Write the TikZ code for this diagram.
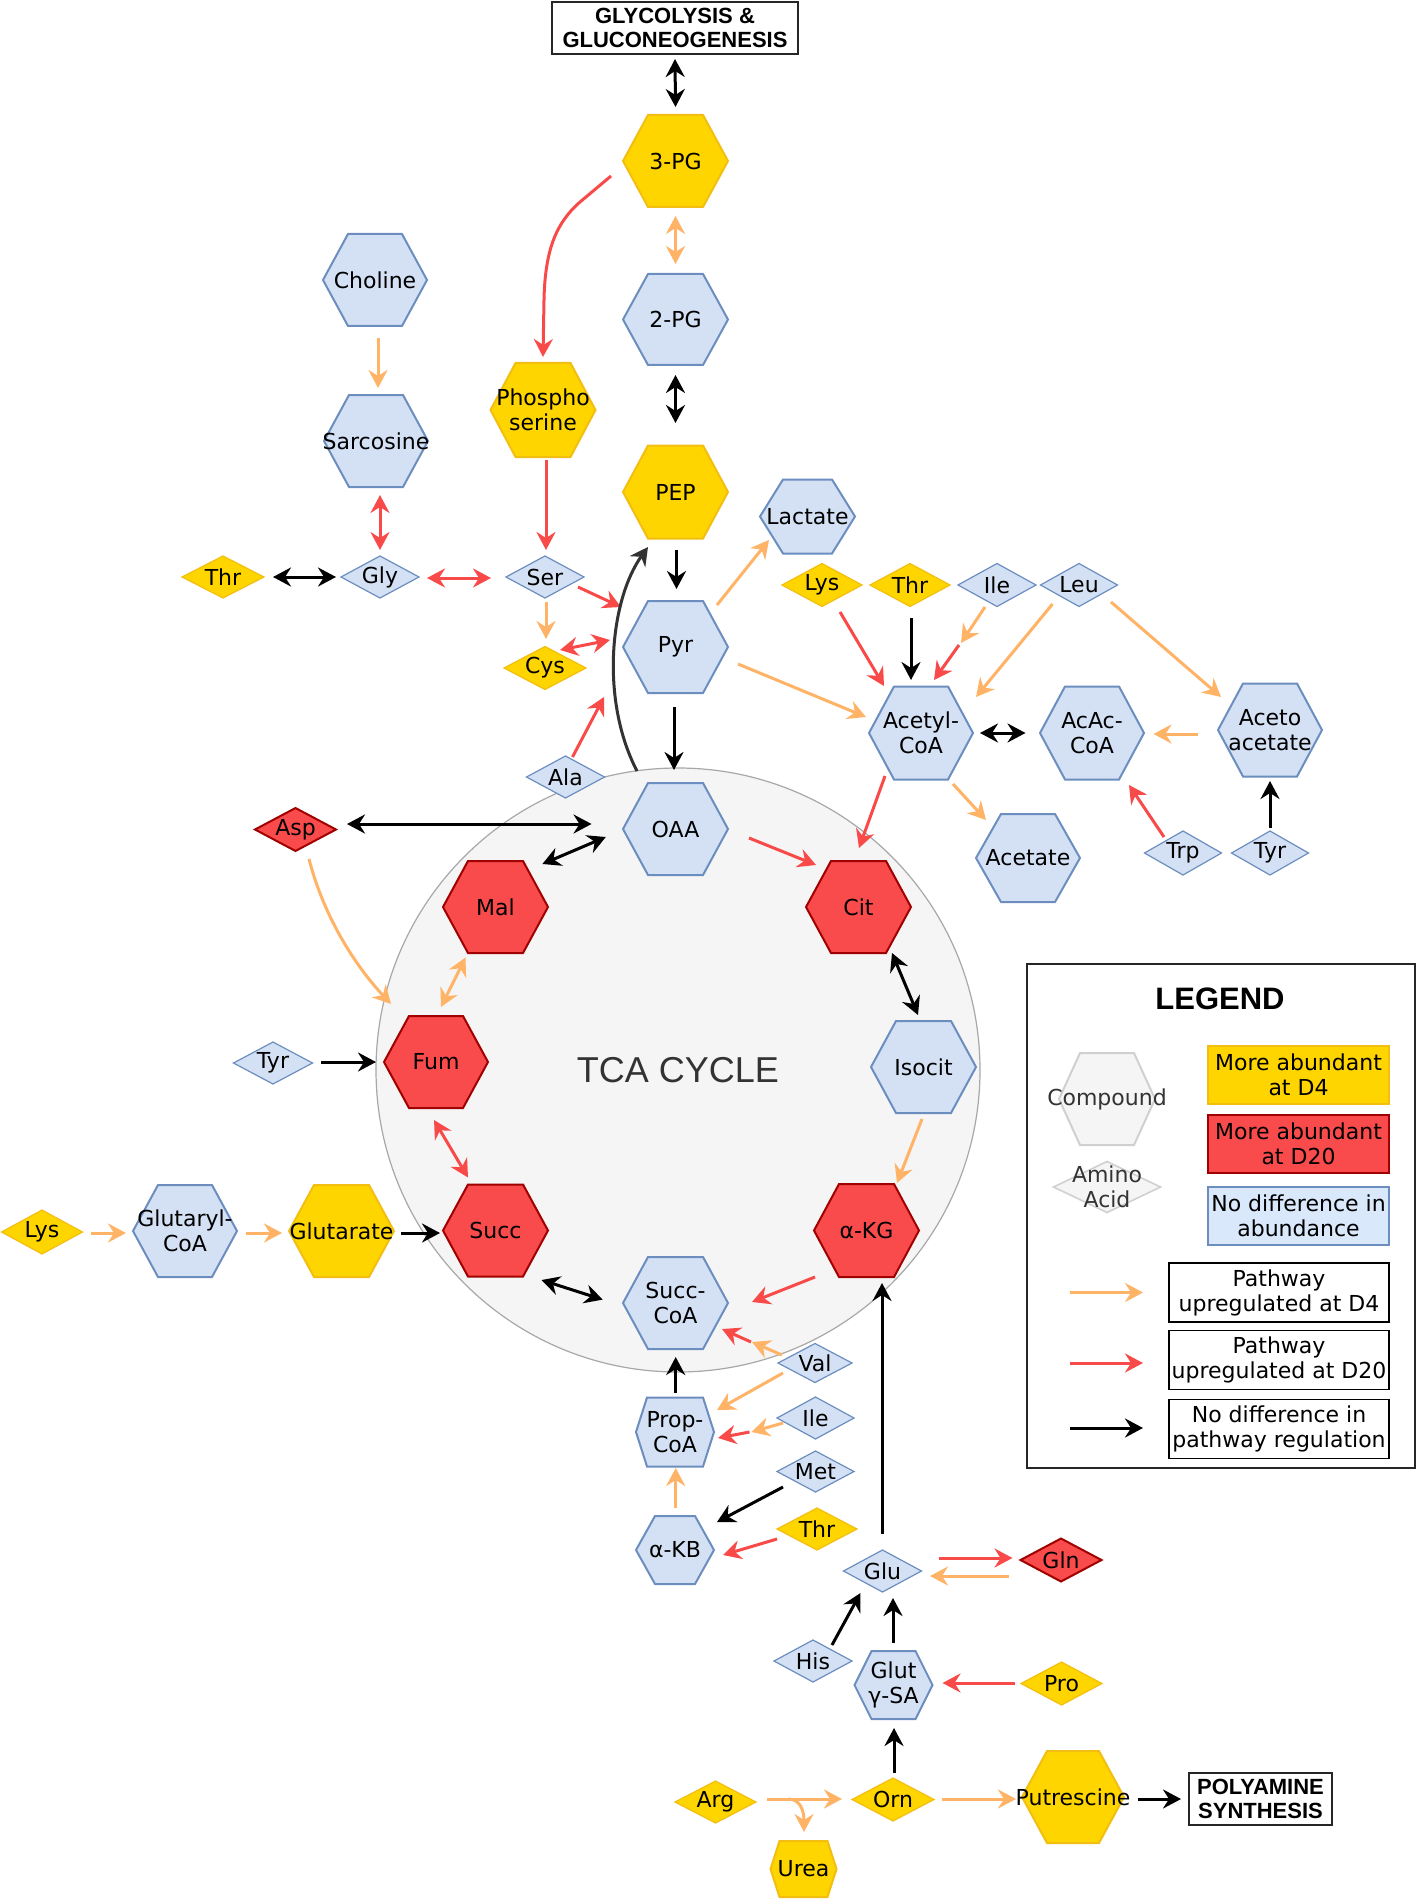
\documentclass[tikz,border=0pt]{standalone}
\usepackage{fontspec}
\setmainfont{DejaVu Sans}
\newfontfamily\hdrfont{Liberation Sans}
\usetikzlibrary{arrows.meta}
\definecolor{yfill}{HTML}{FFD500}
\definecolor{ydraw}{HTML}{F3BE12}
\definecolor{rfill}{HTML}{F94B4B}
\definecolor{rdraw}{HTML}{A10000}
\definecolor{bfill}{HTML}{D4E1F5}
\definecolor{lblue}{HTML}{DAE8FC}
\definecolor{bdraw}{HTML}{6C8EBF}
\definecolor{oarrow}{HTML}{FFB366}
\definecolor{rarrow}{HTML}{F94A4A}
\definecolor{gfill}{HTML}{F5F5F5}
\definecolor{gdraw}{HTML}{D0D0D0}
\definecolor{cdraw}{HTML}{A8A8A8}
\definecolor{dgray}{HTML}{333333}
\tikzset{
  lbl/.style={inner sep=0pt, align=center, font=\fontsize{11}{12.5}\selectfont},
  hexY/.style={fill=yfill, draw=ydraw, line width=1pt},
  hexR/.style={fill=rfill, draw=rdraw, line width=1pt},
  hexB/.style={fill=bfill, draw=bdraw, line width=1pt},
  hexG/.style={fill=gfill, draw=gdraw, line width=1pt},
  diaY/.style={fill=yfill, draw=ydraw, line width=0.6pt},
  diaR/.style={fill=rfill, draw=rdraw, line width=1pt},
  diaB/.style={fill=bfill, draw=bdraw, line width=0.6pt},
  diaG/.style={fill=gfill, draw=gdraw, line width=0.8pt},
  >={Stealth[length=9pt,width=9.5pt,inset=3pt]},
  oa/.style={draw=oarrow, line width=1.5pt},
  ra/.style={draw=rarrow, line width=1.5pt},
  ka/.style={draw=black, line width=1.5pt},
  ga/.style={draw=dgray, line width=1.5pt},
  hdrbox/.style={draw=black!85, line width=0.8pt, inner sep=0pt, align=center,
    font=\hdrfont\bfseries\fontsize{11}{12}\selectfont},
  lbox/.style={line width=0.8pt, minimum width=90.5pt, minimum height=29pt, inner sep=0pt,
    align=center, font=\fontsize{11}{12.5}\selectfont},
  pbox/.style={draw=black, line width=0.8pt, minimum width=110pt, minimum height=29.5pt, inner sep=0pt,
    align=center, font=\fontsize{11}{12.5}\selectfont}
}
% hexagon: [node opts]{name}{cx}{cy}{halfwidth}{halfheight}{inset}{style}{text}
\newcommand\hexa[9][]{%
  \path[#8] (#3-#5,#4) -- (#3-#5+#7,#4-#6) -- (#3+#5-#7,#4-#6) -- (#3+#5,#4)
    -- (#3+#5-#7,#4+#6) -- (#3-#5+#7,#4+#6) -- cycle;
  \node[lbl, minimum width=#5pt, minimum height=#6pt, #1] (#2) at (#3,#4) {#9};
}
% diamond: [node opts]{name}{cx}{cy}{halfwidth}{halfheight}{style}{text}
\newcommand\dia[8][]{%
  \path[#7] (#3-#5,#4) -- (#3,#4-#6) -- (#3+#5,#4) -- (#3,#4+#6) -- cycle;
  \node[lbl, #1] (#2) at (#3,#4) {#8};
}
% connector: {style}{from}{offset}{to}{offset}
\newcommand\con[5]{\draw[#1] ([shift={(#3)}]#2.center) -- ([shift={(#5)}]#4.center);}

\begin{document}
\begin{tikzpicture}[x=0.5pt,y=-0.5pt]
\useasboundingbox (0,0) rectangle (1418,1899);

% TCA circle
\node[circle, minimum size=302pt, inner sep=0pt, fill=gfill, draw=cdraw, line width=0.6pt,
  font=\hdrfont\fontsize{18}{20}\selectfont, text=dgray] (tca) at (678,1070) {TCA CYCLE};

% header boxes
\node[hdrbox, minimum width=123pt, minimum height=26pt] (glyco) at (675,28) {GLYCOLYSIS \&\\GLUCONEOGENESIS};
\node[hdrbox, minimum width=71.5pt, minimum height=26pt] (poly) at (1260.5,1799) {POLYAMINE\\SYNTHESIS};

% hexagons
\hexa{pthree}{675.5}{161}{52.5}{46}{25}{hexY}{3-PG}
\hexa{ptwo}{675.5}{319.5}{52.5}{45.5}{25}{hexB}{2-PG}
\hexa{pep}{675.5}{492}{52.5}{46.5}{25}{hexY}{PEP}
\hexa{choline}{375}{280}{52}{46}{25}{hexB}{Choline}
\hexa{sarc}{376}{441}{52}{46}{25}{hexB}{Sarcosine}
\hexa{phos}{543}{410}{52.5}{47}{25}{hexY}{Phospho\\serine}
\hexa{lactate}{807.5}{516.5}{47.5}{37}{23}{hexB}{Lactate}
\hexa{pyr}{675.5}{647}{52.5}{46}{25}{hexB}{Pyr}
\hexa{acetyl}{921}{733}{52}{46.5}{25}{hexB}{Acetyl-\\CoA}
\hexa{acac}{1092}{733}{52}{46.5}{25}{hexB}{AcAc-\\CoA}
\hexa{aceto}{1270}{730}{52}{46.5}{25}{hexB}{Aceto\\acetate}
\hexa{acetate}{1028}{858}{52}{44}{25}{hexB}{Acetate}
\hexa{oaa}{675.5}{829}{52.5}{46}{25}{hexB}{OAA}
\hexa{cit}{858.5}{907}{52.5}{46}{25}{hexR}{Cit}
\hexa{isocit}{923.5}{1067}{52.5}{46}{25}{hexB}{Isocit}
\hexa{akg}{866.5}{1230.5}{52.5}{46.5}{25}{hexR}{α-KG}
\hexa{succcoa}{675.5}{1303}{52.5}{46}{25}{hexB}{Succ-\\CoA}
\hexa{succ}{495.5}{1230.5}{52.5}{46}{25}{hexR}{Succ}
\hexa{fum}{436}{1062}{52}{46}{25}{hexR}{Fum}
\hexa{mal}{495.5}{907}{52.5}{46}{25}{hexR}{Mal}
\hexa{glutaryl}{185}{1231}{52}{46}{25}{hexB}{Glutaryl-\\CoA}
\hexa{glutarate}{341.5}{1231}{52.5}{46}{25}{hexY}{Glutarate}
\hexa{propcoa}{675}{1432}{39}{34.5}{11}{hexB}{Prop-\\CoA}
\hexa{akb}{675}{1550}{39}{34}{19}{hexB}{α-KB}
\hexa{glutsa}{893.5}{1685}{39}{34}{17}{hexB}{Glut\\γ-SA}
\hexa{putr}{1073}{1797}{51}{46}{25}{hexY}{Putrescine}
\hexa{urea}{803.5}{1869}{33}{28}{9}{hexY}{Urea}

% diamonds (amino acids)
\dia{thrA}{223}{577}{41}{21}{diaY}{Thr}
\dia{gly}{380}{577}{39}{21}{diaB}{Gly}
\dia{ser}{545}{577}{39}{21}{diaB}{Ser}
\dia{cys}{545}{668}{41}{21.5}{diaY}{Cys}
\dia{ala}{565.5}{777}{39}{21}{diaB}{Ala}
\dia{lysA}{822}{585}{40}{21.5}{diaY}{Lys}
\dia{thrB}{910}{585}{40}{21.5}{diaY}{Thr}
\dia{ileA}{997}{585}{39}{21.5}{diaB}{Ile}
\dia{leu}{1079}{585}{38.5}{21.5}{diaB}{Leu}
\dia{trp}{1183}{853}{38.5}{22}{diaB}{Trp}
\dia{tyrA}{1270}{853}{38.5}{22}{diaB}{Tyr}
\dia{asp}{295.5}{829.5}{40.5}{21.5}{diaR}{Asp}
\dia{tyrB}{273}{1063}{39.5}{21}{diaB}{Tyr}
\dia{lysB}{42}{1232}{40.5}{22}{diaY}{Lys}
\dia{val}{815}{1363}{37}{19.5}{diaB}{Val}
\dia{ileB}{815.5}{1418}{38.5}{21}{diaB}{Ile}
\dia{met}{815.5}{1471.5}{38.5}{20.5}{diaB}{Met}
\dia{thrC}{817}{1529}{40}{21}{diaY}{Thr}
\dia{glu}{882.5}{1571}{39}{21}{diaB}{Glu}
\dia{gln}{1061}{1560}{40.5}{21.5}{diaR}{Gln}
\dia{his}{813}{1661}{39}{21}{diaB}{His}
\dia{pro}{1061.5}{1683.5}{40.5}{21.5}{diaY}{Pro}
\dia{orn}{893}{1799.5}{41}{21.5}{diaY}{Orn}
\dia{arg}{715.5}{1802}{40.5}{21}{diaY}{Arg}

% connectors
\con{ka,<->}{glyco}{0,31}{pthree}{0,-54}
\con{oa,<->}{pthree}{0,55}{ptwo}{0,-55.5}
\con{ka,<->}{ptwo}{0,55.5}{pep}{0,-69}
\draw[ra,->] ([shift={(-64.5,15)}]pthree.center) -- (580,202) .. controls (556,223) and (545,250) .. (544,300) -- ([shift={(0,-53)}]phos.center);
\con{oa,->}{choline}{3,58}{sarc}{2,-53}
\con{ra,<->}{sarc}{4,54}{gly}{0,-27}
\con{ra,->}{phos}{3,50}{ser}{1,-27}
\con{ka,<->}{thrA}{50,0}{gly}{-44,0}
\con{ra,<->}{gly}{47,1}{ser}{-54,1}
\con{ra,->}{ser}{33,10}{pyr}{-54.5,-40}
\con{oa,->}{ser}{1,25}{cys}{1,-29}
\con{ra,<->}{cys}{15,-18}{pyr}{-65.5,-7}
\con{ra,->}{ala}{7,-20}{pyr}{-71.5,50}
\draw[ga,->] ([shift={(-38.5,-58)}]oaa.center) .. controls (600,700) and (610,600) .. ([shift={(-27.5,55)}]pep.center);
\con{ka,->}{pep}{1,58}{pyr}{1,-58}
\con{oa,->}{pyr}{41.5,-42}{lactate}{-38.5,23.5}
\con{oa,->}{pyr}{62.5,17}{acetyl}{-55,-16}
\con{ka,->}{pyr}{-1.5,60}{oaa}{-1.5,-59}
\con{ra,->}{lysA}{18,27}{acetyl}{-37,-47}
\con{ka,->}{thrB}{1,33}{acetyl}{-10,-53}
\coordinate (ileMid) at (961,643);
\draw[oa,->] ([shift={(-12,22)}]ileA.center) -- (ileMid);
\draw[ra,->] ([shift={(-2,2)}]ileMid) -- ([shift={(13,-53)}]acetyl.center);
\con{oa,->}{leu}{-26.5,19}{acetyl}{55,-36}
\con{oa,->}{leu}{32,17}{aceto}{-49,-33}
\con{ka,<->}{acetyl}{59,0}{acac}{-66.5,0}
\con{oa,->}{aceto}{-72,4}{acac}{61.5,1}
\con{ra,->}{acetyl}{-36,43}{cit}{0.5,-59}
\con{oa,->}{acetyl}{32,51}{acetate}{-42,-38}
\con{ra,->}{trp}{-19,-16}{acac}{37,52}
\con{ka,->}{tyrA}{0,-25}{aceto}{0,51}
\con{ra,->}{oaa}{73.5,9}{cit}{-42.5,-42}
\con{ka,<->}{asp}{51.5,-5.5}{oaa}{-84,-5}
\con{ka,<->}{oaa}{-69.7,8}{mal}{46.9,-43}
\draw[oa,->] ([shift={(13.5,29.5)}]asp.center) .. controls (322,910) and (350,960) .. ([shift={(-45,-58)}]fum.center);
\con{oa,<->}{fum}{5,-55}{mal}{-30,50.5}
\con{ka,->}{tyrB}{48,-1}{fum}{-60,0}
\con{ra,<->}{fum}{-2,58}{succ}{-27.5,-53}
\con{oa,->}{lysB}{49,1}{glutaryl}{-59,2}
\con{oa,->}{glutaryl}{61,2}{glutarate}{-59.5,2}
\con{ka,->}{glutarate}{59.5,2}{succ}{-55.5,2.5}
\con{ka,<->}{succ}{46,49.5}{succcoa}{-72.8,-3.4}
\con{ka,<->}{cit}{33.5,46}{isocit}{-5.5,-52}
\con{oa,->}{isocit}{-1.5,52}{akg}{30.5,-47.5}
\con{ra,->}{akg}{-51.5,46.5}{succcoa}{76.5,-1}
\coordinate (valMid) at (752,1342);
\draw[oa,->] ([shift={(-33,-8)}]val.center) -- (valMid);
\draw[ra,->] ([shift={(-1,0)}]valMid) -- ([shift={(46.5,26)}]succcoa.center);
\con{oa,->}{val}{-32,10}{propcoa}{42,-22}
\con{ka,->}{propcoa}{0.7,-39}{succcoa}{0.2,54}
\coordinate (ileMidB) at (751.5,1432);
\draw[oa,->] ([shift={(-32.5,5)}]ileB.center) -- (ileMidB);
\draw[ra,->] ([shift={(-2,0)}]ileMidB) -- ([shift={(43,6)}]propcoa.center);
\con{ka,->}{met}{-32.5,15.5}{akb}{42,-28}
\con{ra,->}{thrC}{-40,10}{akb}{48,5}
\con{oa,->}{akb}{0.7,-42}{propcoa}{0.7,36}
\con{ka,->}{glu}{-0.5,-37}{akg}{15.5,52.5}
\con{ra,->}{glu}{56.5,-13}{gln}{-48.5,-2}
\con{oa,->}{gln}{-52,16}{glu}{47.5,5}
\con{ka,->}{his}{19,-16}{glu}{-22,22}
\con{ka,->}{glutsa}{-0.5,-42}{glu}{10.5,27}
\con{ra,->}{pro}{-46.8,-0.5}{glutsa}{49,-2}
\con{ka,->}{orn}{1,-26.5}{glutsa}{0.5,43}
\con{oa,->}{arg}{51.5,-3}{orn}{-51,-0.5}
\draw[oa,->] ([shift={(72.5,-3)}]arg.center) .. controls (800,1799) and (804,1810) .. ([shift={(0.5,-37)}]urea.center);
\con{oa,->}{orn}{49,-0.5}{putr}{-57,2}
\con{ka,->}{putr}{65,2}{poly}{-79.5,0}

% legend
\node[draw=black!85, line width=0.6pt, minimum width=194pt, minimum height=252pt, inner sep=0pt] (legend) at (1221,1216) {};
\node[font=\hdrfont\bfseries\fontsize{15.5}{18}\selectfont, inner sep=0pt] (legtitle) at (1220,999) {LEGEND};
\hexa[text=dgray]{legcomp}{1107}{1099}{48}{46}{21}{hexG}{Compound}
\dia[text=dgray]{legaa}{1107}{1187}{53.5}{25.5}{diaG}{Amino\\Acid}
\node[lbox, fill=yfill, draw=ydraw] (legY) at (1298.5,1075) {More abundant\\at D4};
\node[lbox, fill=rfill, draw=rdraw] (legR) at (1298.5,1144) {More abundant\\at D20};
\node[lbox, fill=lblue, draw=bdraw] (legB) at (1298.5,1216) {No difference in\\abundance};
\node[pbox] (legD4) at (1279,1292.5) {Pathway\\upregulated at D4};
\node[pbox] (legD20) at (1279,1360) {Pathway\\upregulated at D20};
\node[pbox] (legND) at (1279,1429) {No difference in\\pathway regulation};
\draw[oa,->] ([shift={(-209,0)}]legD4.center) -- ([shift={(-136,0)}]legD4.center);
\draw[ra,->] ([shift={(-209,3)}]legD20.center) -- ([shift={(-136,3)}]legD20.center);
\draw[ka,->] ([shift={(-209,-1)}]legND.center) -- ([shift={(-136,-1)}]legND.center);
\end{tikzpicture}
\end{document}
